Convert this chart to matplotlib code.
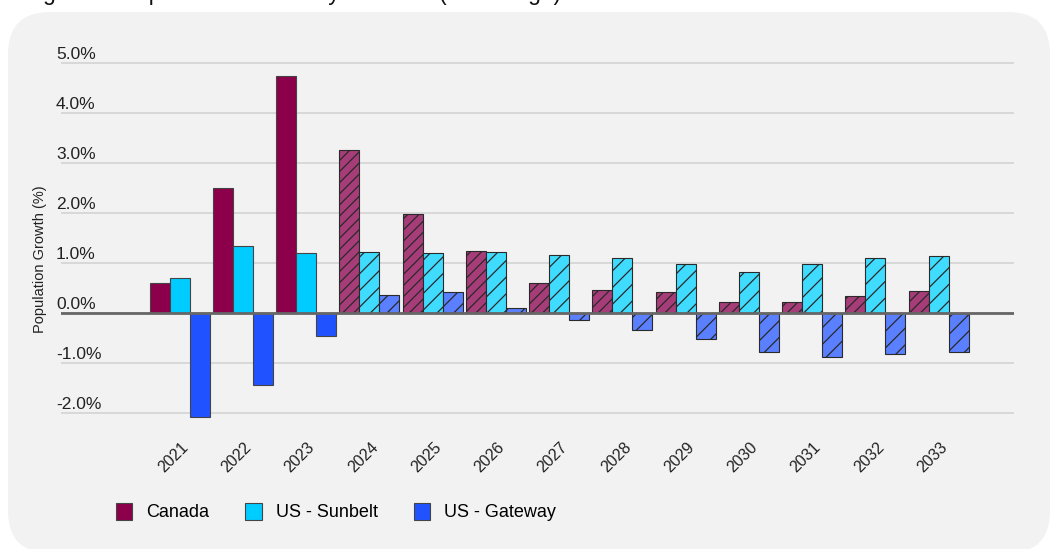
import matplotlib
matplotlib.use("Agg")
import matplotlib.pyplot as plt
import matplotlib.patches as mpatches
import matplotlib.transforms as mtransforms
import numpy as np

plt.rcParams['font.family'] = ['Liberation Sans', 'DejaVu Sans']
plt.rcParams['hatch.linewidth'] = 0.9

# Annual population growth (%), actuals through 2023 then projections
years = [2021, 2022, 2023, 2024, 2025, 2026, 2027, 2028, 2029, 2030, 2031, 2032, 2033]
canada = [0.61, 2.51, 4.74, 3.27, 1.99, 1.25, 0.60, 0.47, 0.42, 0.23, 0.22, 0.34, 0.45]
sunbelt = [0.70, 1.34, 1.21, 1.23, 1.21, 1.22, 1.16, 1.10, 0.99, 0.83, 0.98, 1.11, 1.15]
gateway = [-2.08, -1.44, -0.46, 0.37, 0.43, 0.11, -0.14, -0.34, -0.52, -0.78, -0.88, -0.82, -0.78]
first_projection = 2024

series_names = ['Canada', 'US - Sunbelt', 'US - Gateway']
solid_colors = ['#8C004B', '#00CCFF', '#2152FF']
hatch_colors = ['#A63C78', '#40DCFF', '#5A7FFF']
hatches = ['///', '//', '//']

yticks = [-2, -1, 0, 1, 2, 3, 4, 5]
ytick_labels = ['-2.0%', '-1.0%', '0.0%', '1.0%', '2.0%', '3.0%', '4.0%', '5.0%']

W, H = 1052, 549
fig = plt.figure(figsize=(W / 100, H / 100), dpi=100)
fig.patch.set_facecolor('white')

# light rounded panel behind the chart
panel = mpatches.FancyBboxPatch((8, -4), 1042, H - 12 + 4,
                                boxstyle='round,pad=0,rounding_size=42',
                                facecolor='#f2f2f2', edgecolor='none',
                                transform=mtransforms.IdentityTransform(), zorder=-5)
fig.add_artist(panel)

# caption sits mostly above the top edge
fig.text(24 / W, 1.0, 'Figure 3: Population Growth by Location (% Change)',
         fontsize=16.5, va='baseline', ha='left', color='#111111')

left, right, top, bottom = 61, 1014, 53, 438
ax = fig.add_axes([left / W, 1 - bottom / H, (right - left) / W, (bottom - top) / H])
ax.set_facecolor('none')

x = np.arange(len(years))
w = 0.316
actual = np.array(years) < first_projection
proj = ~actual

for k, vals in enumerate([canada, sunbelt, gateway]):
    vals = np.array(vals)
    pos = x + (k - 1) * w
    ax.bar(pos[actual], vals[actual], width=w, color=solid_colors[k],
           edgecolor='#444444', linewidth=0.8, label=series_names[k], zorder=3)
    ax.bar(pos[proj], vals[proj], width=w, color=hatch_colors[k],
           edgecolor='#2a2a2a', linewidth=0.8, hatch=hatches[k], zorder=3)

ax.set_xlim(-1.874, -1.874 + (right - left) / 63.25)
ax.set_ylim(-2.5, 5.2)

for s in ax.spines.values():
    s.set_visible(False)

ax.set_yticks(yticks)
ax.set_yticklabels([])
ax.tick_params(axis='y', length=0)
ax.yaxis.grid(True, color='#d3d3d3', linewidth=1.2, zorder=0)
ax.set_axisbelow(True)
ax.axhline(0, color='#666666', linewidth=2, zorder=4)

# y labels sit just above their gridlines
lbl_tr = mtransforms.blended_transform_factory(fig.transFigure, ax.transData)
for v, t in zip(yticks, ytick_labels):
    ax.text(56 / W, v + 0.02, t, transform=lbl_tr, ha='left', va='bottom',
            fontsize=12.5, color='#222222')

ax.set_xticks(x)
ax.set_xticklabels([str(y) for y in years], rotation=45, ha='center',
                   fontsize=11.5, color='#222222')
ax.tick_params(axis='x', length=0, pad=1)
shift = mtransforms.ScaledTranslation(-6 / 100, 0, fig.dpi_scale_trans)
for lab in ax.get_xticklabels():
    lab.set_transform(lab.get_transform() + shift)

fig.text(40 / W, 1 - 259 / H, 'Population Growth (%)', rotation=90,
         ha='center', va='center', fontsize=10.5, color='#222222')

handles, labels = ax.get_legend_handles_labels()
fig.legend(handles, labels, loc='center left', bbox_to_anchor=(116 / W, 1 - 512 / H),
           ncol=3, frameon=False, fontsize=13, handlelength=0.9, handleheight=1.1,
           handletextpad=0.78, columnspacing=2.0, borderpad=0, borderaxespad=0)

fig.savefig('out.png', dpi=100)
